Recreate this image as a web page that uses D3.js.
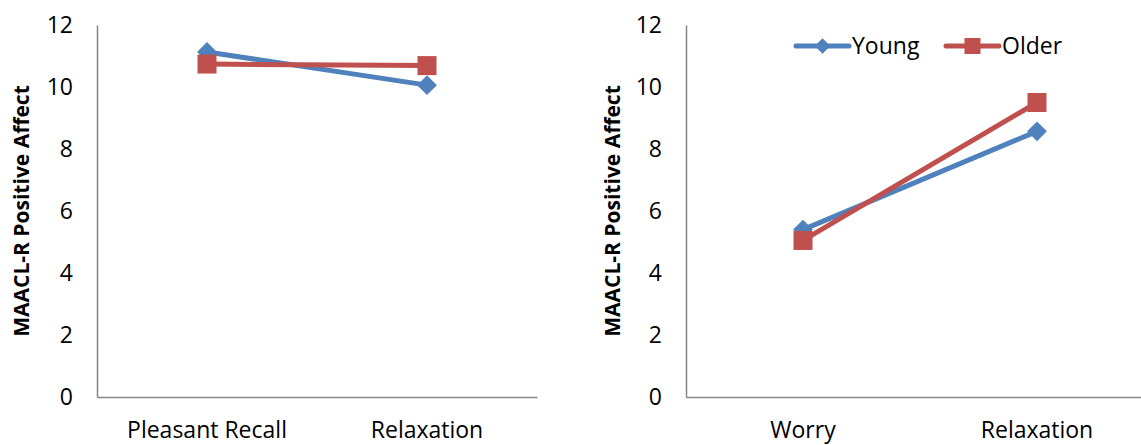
<!DOCTYPE html>
<meta charset="utf-8">
<style>
body { margin: 0; background: #fff; }
text { font-family: "Open Sans", sans-serif; fill: #000; }
.axis .domain { stroke: #868686; stroke-width: 1.5; }
.axis text { font-size: 23px; }
.ytitle { font-size: 21px; font-weight: bold; }
</style>
<svg width="1141" height="445"></svg>
<script src="https://d3js.org/d3.v7.min.js"></script>
<script>

// data
var leftCategories = ["Pleasant Recall", "Relaxation"];
var leftYoung = [11.13, 10.06];
var leftOlder = [10.74, 10.69];

var rightCategories = ["Worry", "Relaxation"];
var rightYoung = [5.40, 8.57];
var rightOlder = [5.05, 9.50];

var seriesNames = ["Young", "Older"];
var seriesColors = ["#4F81BD", "#C0504D"];
var yTicks = [0, 2, 4, 6, 8, 10, 12];
var yTitle = "MAACL-R Positive Affect";

var svg = d3.select("svg");

var y = d3.scaleLinear().domain([0, 12]).range([397, 25]);

// diamond = small square turned 45deg, square = plain
function marker(sel, s, small) {
  var half = s === 0 ? (small ? 5.5 : 7) : (small ? 8 : 9.5);
  sel.append("rect")
      .attr("x", -half).attr("y", -half)
      .attr("width", half * 2).attr("height", half * 2)
      .style("fill", seriesColors[s]);
}

function drawPanel(opts) {
  var g = svg.append("g");

  var x = d3.scaleBand()
      .domain(opts.categories)
      .range([opts.x0, opts.x1]);

  var yAxis = g.append("g")
      .attr("class", "axis")
      .attr("transform", "translate(" + opts.x0 + ",0)")
      .call(d3.axisLeft(y).tickValues(yTicks).tickSize(0).tickPadding(24));
  yAxis.selectAll(".tick line").remove();

  var xAxis = g.append("g")
      .attr("class", "axis")
      .attr("transform", "translate(0," + y(0) + ")")
      .call(d3.axisBottom(x).tickSize(0).tickPadding(25));
  xAxis.selectAll(".tick line").remove();

  g.append("text")
      .attr("class", "ytitle")
      .attr("text-anchor", "middle")
      .attr("transform", "translate(" + opts.titleX + "," + 211 + ") rotate(-90)")
      .attr("dy", "0.35em")
      .text(yTitle);

  var cx = function(i) { return x(opts.categories[i]) + x.bandwidth() / 2; };

  var line = d3.line()
      .x(function(d, i) { return cx(i); })
      .y(function(d) { return y(d); });

  [opts.young, opts.older].forEach(function(vals, s) {
    g.append("path")
        .datum(vals)
        .attr("d", line)
        .style("fill", "none")
        .style("stroke", seriesColors[s])
        .style("stroke-width", 5)
        .style("stroke-linecap", "round");
  });

  [opts.young, opts.older].forEach(function(vals, s) {
    g.selectAll(null)
        .data(vals)
        .enter().append("g")
        .attr("transform", function(d, i) {
          return "translate(" + cx(i) + "," + y(d) + ")" + (s === 0 ? " rotate(45)" : "");
        })
        .each(function() { marker(d3.select(this), s, false); });
  });
}

drawPanel({
  categories: leftCategories, young: leftYoung, older: leftOlder,
  x0: 97, x1: 537, titleX: 22
});

drawPanel({
  categories: rightCategories, young: rightYoung, older: rightOlder,
  x0: 686, x1: 1154, titleX: 613
});

// legend (right panel)
var legendX = [796, 946];
var legend = svg.append("g").attr("transform", "translate(0,46)");
seriesNames.forEach(function(name, s) {
  var lg = legend.append("g").attr("transform", "translate(" + legendX[s] + ",0)");
  lg.append("line")
      .attr("x1", 0).attr("x2", 53)
      .style("stroke", seriesColors[s])
      .style("stroke-width", 5)
      .style("stroke-linecap", "round");
  lg.append("g")
      .attr("transform", "translate(26.5,0)" + (s === 0 ? " rotate(45)" : ""))
      .call(marker, s, true);
  lg.append("text")
      .attr("x", 56)
      .attr("dy", "0.36em")
      .style("font-size", "23px")
      .text(name);
});

</script>
